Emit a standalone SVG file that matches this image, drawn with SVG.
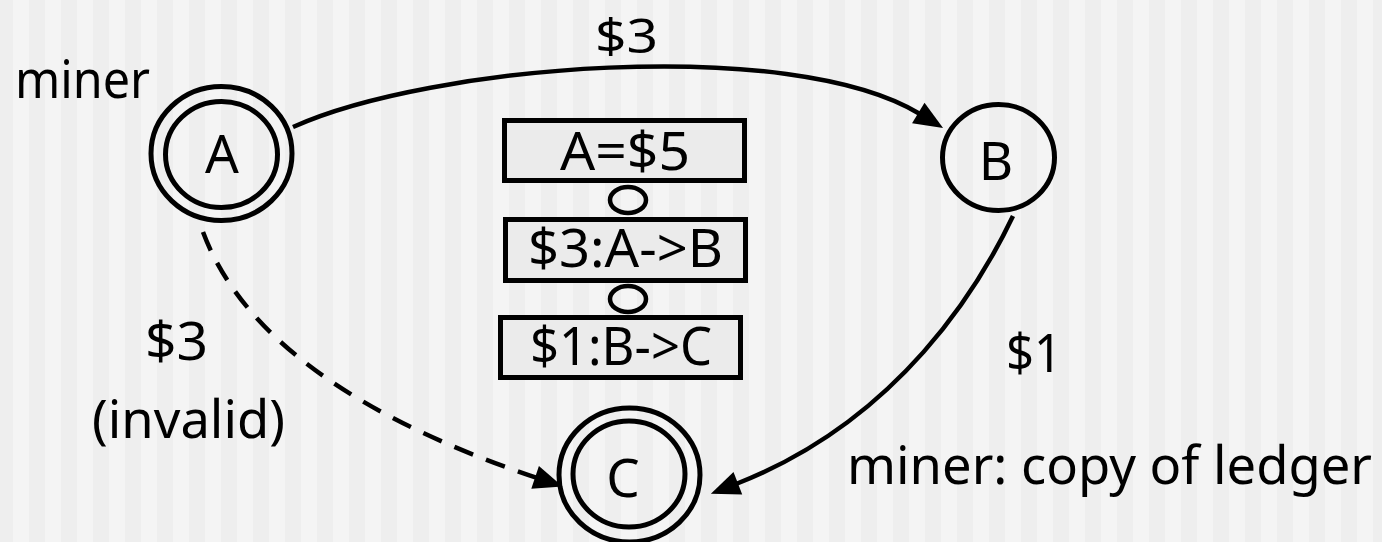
<svg xmlns="http://www.w3.org/2000/svg" width="1382" height="542" viewBox="0 0 1382 542">
<style>
.t{font-family:"Comic Sans MS","Noto Sans","DejaVu Sans",sans-serif;font-size:53px;fill:#000}
.ring{fill:none;stroke:#000;stroke-width:5}
.box{fill:#ebebeb;stroke:#000;stroke-width:5}
.link{fill:none;stroke:#000;stroke-width:4.5}
.edge{fill:none;stroke:#000;stroke-width:4.5}
.dash{stroke-dasharray:20 14}
</style>
<defs>
<pattern id="bg" x="13" y="0" width="32" height="542" patternUnits="userSpaceOnUse">
<rect x="0" y="0" width="16" height="542" fill="#f4f4f4"/>
<rect x="16" y="0" width="16" height="542" fill="#eeeeee"/>
</pattern>
<marker id="arr" markerUnits="userSpaceOnUse" markerWidth="40" markerHeight="30" viewBox="0 -15 40 30" refX="0" refY="0" orient="auto" overflow="visible">
<path d="M-2,-12 L27,0 L-2,12 z" fill="#000"/>
</marker>
</defs>
<rect x="0" y="0" width="1382" height="542" fill="url(#bg)"/>

<g id="connectors">
<path class="edge" d="M293,127 C430,65 790,35 920,114" marker-end="url(#arr)"/>
<path class="edge dash" d="M203,232 Q260,385 537,478" marker-end="url(#arr)"/>
<path class="edge" d="M1013,216 C980,285 900,420 736,484" marker-end="url(#arr)"/>
</g>

<g id="node-A">
<ellipse class="ring" cx="221.5" cy="153.5" rx="70.5" ry="67"/>
<ellipse class="ring" cx="221.5" cy="154.5" rx="56" ry="53"/>
<text class="t" x="222" y="173" text-anchor="middle">A</text>
</g>
<g id="node-B">
<ellipse class="ring" cx="998.5" cy="157.5" rx="56" ry="53"/>
<text class="t" x="996" y="180" text-anchor="middle">B</text>
</g>
<g id="node-C">
<ellipse class="ring" cx="629.5" cy="475" rx="70.5" ry="67"/>
<ellipse class="ring" cx="629" cy="474" rx="56" ry="53"/>
<text class="t" x="623" y="497" text-anchor="middle">C</text>
</g>

<g id="ledger">
<rect class="box" x="504.5" y="120.5" width="240" height="60"/>
<text class="t" x="560" y="170" textLength="130" lengthAdjust="spacingAndGlyphs">A=$5</text>
<ellipse class="link" cx="628" cy="200" rx="18" ry="13"/>
<rect class="box" x="505.5" y="219.5" width="240" height="61"/>
<text class="t" x="528" y="267" textLength="195" lengthAdjust="spacingAndGlyphs">$3:A-&gt;B</text>
<ellipse class="link" cx="628" cy="299" rx="18" ry="13"/>
<rect class="box" x="500.5" y="317.5" width="240" height="60"/>
<text class="t" x="530" y="365" textLength="182" lengthAdjust="spacingAndGlyphs">$1:B-&gt;C</text>
</g>

<g id="labels">
<text class="t" x="15" y="98" textLength="135" lengthAdjust="spacingAndGlyphs">miner</text>
<text class="t" x="595" y="53" style="font-size:48px" textLength="63" lengthAdjust="spacingAndGlyphs">$3</text>
<text class="t" x="145" y="360" textLength="63" lengthAdjust="spacingAndGlyphs">$3</text>
<text class="t" x="92" y="438" textLength="193" lengthAdjust="spacingAndGlyphs">(invalid)</text>
<text class="t" x="1006" y="372" textLength="56" lengthAdjust="spacingAndGlyphs">$1</text>
<text class="t" x="847" y="484" textLength="525" lengthAdjust="spacingAndGlyphs">miner: copy of ledger</text>
</g>
</svg>
